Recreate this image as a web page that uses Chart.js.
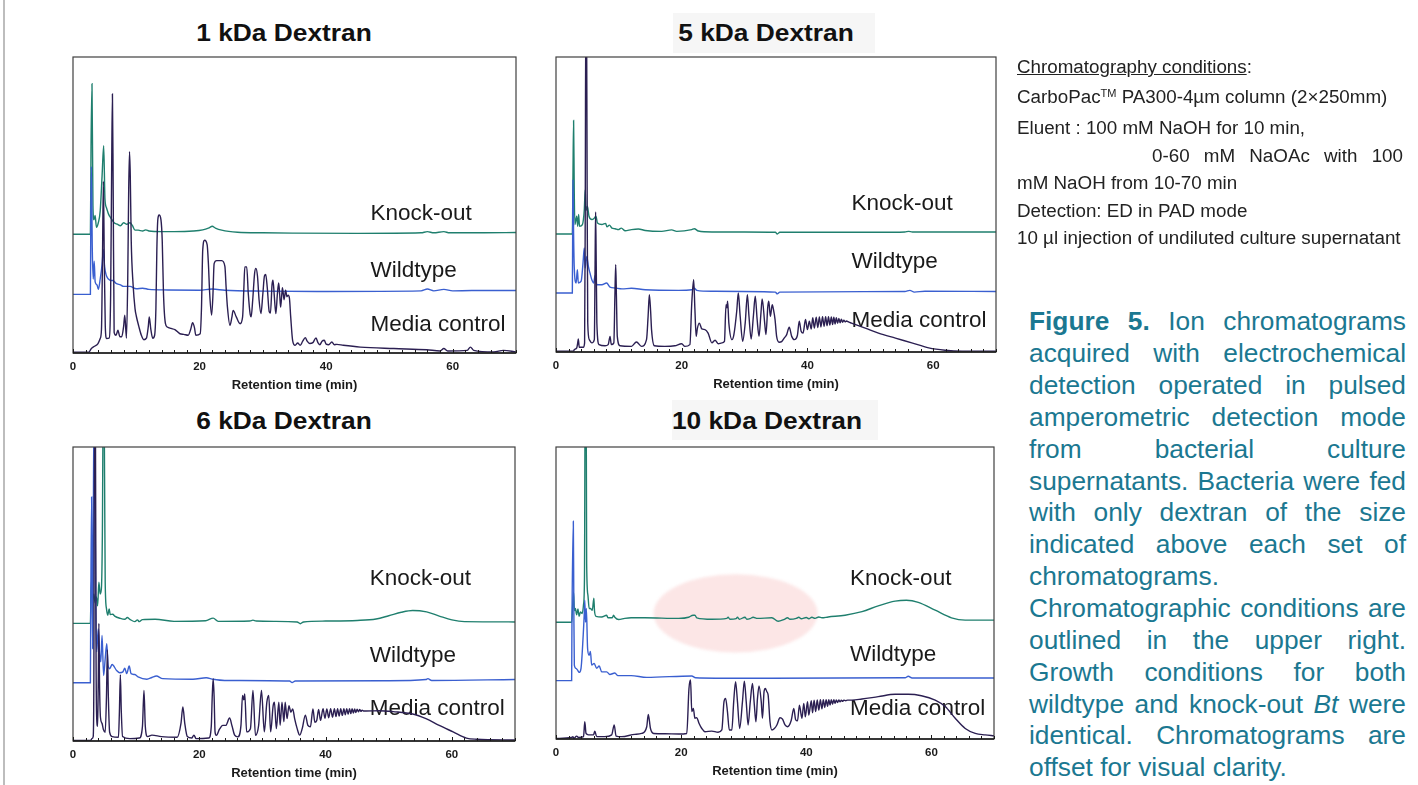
<!DOCTYPE html>
<html>
<head>
<meta charset="utf-8">
<script src="https://cdn.jsdelivr.net/npm/chart.js@4.4.1/dist/chart.umd.min.js"></script>
<style>
  html, body { margin: 0; padding: 0; }
  body { width: 1418px; height: 785px; background: #fff; position: relative; overflow: hidden;
         font-family: "Liberation Sans", Arial, sans-serif; color: #1a1a1a; }
  .edge { position: absolute; left: 3px; top: 0; width: 2px; height: 785px; background: #bdbdbd; }
  canvas { position: absolute; }
  .tbox { position: absolute; background: #f6f6f6; }
  .title { position: absolute; font-weight: bold; font-size: 23.5px; color: #111; white-space: nowrap;
           line-height: 28px; transform: translate(-50%, -50%) scaleX(1.12); }
  .cond { position: absolute; font-size: 18.8px; line-height: 22px; color: #222; white-space: nowrap; }
  .cond sup { font-size: 11px; line-height: 0; vertical-align: 6px; }
  .just { white-space: normal; text-align: justify; text-align-last: justify; }
  .cap { position: absolute; left: 1029px; width: 377px; font-size: 26.3px; line-height: 30px; color: #1b7891;
         text-align: justify; text-align-last: justify; }
  .cap.last { text-align-last: left; }
</style>
</head>
<body>
<div class="edge"></div>

<div class="tbox" style="left:673px;top:13px;width:202px;height:40px"></div>
<div class="tbox" style="left:672px;top:400px;width:206px;height:40px"></div>
<div class="title" style="left:284px;top:33px">1 kDa Dextran</div>
<div class="title" style="left:766px;top:33px">5 kDa Dextran</div>
<div class="title" style="left:284px;top:421px">6 kDa Dextran</div>
<div class="title" style="left:767px;top:421px">10 kDa Dextran</div>

<canvas id="c1k"></canvas>
<canvas id="c5k"></canvas>
<canvas id="c6k"></canvas>
<canvas id="c10k"></canvas>

<div class="cond" style="left:1017px;top:56px"><u>Chromatography conditions</u>:</div>
<div class="cond" style="left:1017px;top:86px">CarboPac<sup>TM</sup> PA300-4µm column (2×250mm)</div>
<div class="cond" style="left:1017px;top:117px">Eluent : 100 mM NaOH for 10 min,</div>
<div class="cond just" style="left:1152px;top:145px;width:251px">0-60 mM NaOAc with 100</div>
<div class="cond" style="left:1017px;top:172px">mM NaOH from 10-70 min</div>
<div class="cond" style="left:1017px;top:200px">Detection: ED in PAD mode</div>
<div class="cond" style="left:1017px;top:227px">10 µl injection of undiluted culture supernatant</div>

<div class="cap" style="top:306px"><b>Figure 5.</b> Ion chromatograms</div>
<div class="cap" style="top:338px">acquired with electrochemical</div>
<div class="cap" style="top:370px">detection operated in pulsed</div>
<div class="cap" style="top:402px">amperometric detection mode</div>
<div class="cap" style="top:434px">from bacterial culture</div>
<div class="cap" style="top:466px">supernatants. Bacteria were fed</div>
<div class="cap" style="top:497px">with only dextran of the size</div>
<div class="cap" style="top:529px">indicated above each set of</div>
<div class="cap last" style="top:561px">chromatograms.</div>
<div class="cap" style="top:593px">Chromatographic conditions are</div>
<div class="cap" style="top:625px">outlined in the upper right.</div>
<div class="cap" style="top:657px">Growth conditions for both</div>
<div class="cap" style="top:689px">wildtype and knock-out <i>Bt</i> were</div>
<div class="cap" style="top:720px">identical. Chromatograms are</div>
<div class="cap last" style="top:752px">offset for visual clarity.</div>

<script>
// Retention time (min) vs detector response; each trace is relative to its own baseline.
const TIME_TICKS = [0, 20, 40, 60];
const TRACE_NAMES = ['Knock-out', 'Wildtype', 'Media control'];
// vertical offsets applied to the traces
const OFFSET_KO = 40;
const OFFSET_WT = 20;
const OFFSET_MC = 0;

// ---------- 1 kDa dextran ----------
const ko1k = [[0,0.1],[2.75,0.1],[2.85,30],[3.0,51],[3.15,10],[3.3,5],[3.5,6.5],[3.7,2.5],[4.0,4],[4.3,8],[4.6,20],[4.85,30],[5.05,12],[5.3,9],[5.6,7],[6.0,5.5],[6.5,4],[7.0,3.5],[7.5,3],[8.0,4],[8.5,3.5],[9.0,4],[9.4,3],[9.8,1.5],[10.3,1.5],[11,1.2],[11.5,1.6],[12,1.2],[14,1],[16,1],[19,1.2],[20.5,1.6],[21.5,2.3],[22,2.8],[22.5,2.2],[23.5,1.5],[26,0.8],[30,0.6],[35,0.5],[45,0.4],[55,0.6],[56,1.0],[57,0.6],[58.6,1.0],[59.5,0.6],[65,0.6],[70,0.7]];
const wt1k = [[0,-0.2],[2.75,-0.2],[2.8,20],[2.9,43],[3.05,15],[3.2,5],[3.35,11],[3.5,4],[3.8,3],[4.0,1.5],[4.3,5],[4.6,10],[4.8,15],[5.0,9],[5.3,6],[5.6,5],[6.0,4.5],[6.3,4.5],[6.8,3.5],[7.5,3],[8.0,2.5],[9,2.5],[10,1.7],[11,1.9],[12,1.5],[15,1.3],[20,1.2],[22,1.6],[24,1.2],[30,0.9],[40,0.8],[55,1.0],[56,1.6],[57,1.0],[58.6,1.5],[60,1.0],[63,1.1],[70,1.1]];
const mc1k = [[0,0.3],[2.5,0.3],[2.9,1.5],[3.4,2.3],[3.95,3.2],[4.3,4.9],[4.5,8],[4.65,30],[4.8,58],[4.95,30],[5.1,9],[5.3,4.9],[5.7,5],[5.95,20],[6.1,60],[6.23,87.5],[6.35,55],[6.5,7],[6.8,6],[7.1,7.7],[7.4,5.5],[7.7,5.5],[8.0,9],[8.18,12.8],[8.45,5],[8.65,25],[8.8,55],[8.93,68],[9.05,60],[9.2,38],[9.5,23],[9.8,15],[10.0,12.5],[10.4,9],[10.8,6],[11.2,4.5],[11.6,5],[11.9,9],[12.05,12.2],[12.3,8],[12.6,5],[12.9,6],[13.1,15],[13.25,35],[13.4,45],[13.6,46.6],[13.9,45],[14.1,38],[14.3,20],[14.6,10],[14.9,8.8],[15.5,8.3],[16.1,7.9],[16.9,6.5],[17.5,6.3],[18.2,6],[18.6,8],[18.9,10.2],[19.2,8.5],[19.4,6],[20.1,6.5],[20.3,15],[20.5,34.8],[20.8,38.1],[21.2,36.5],[21.4,30],[21.6,20],[21.9,12.8],[22.1,19],[22.3,30.2],[22.7,31.2],[23.5,31.2],[24.0,29.3],[24.2,22],[24.4,15.6],[24.8,9.4],[25.1,12],[25.3,14.4],[25.8,12.2],[26.4,9.9],[26.8,12.2],[27.0,22],[27.15,29.1],[27.45,29.1],[27.7,20],[28.0,13],[28.15,12.2],[28.4,18],[28.7,27],[28.9,28.6],[29.15,26],[29.4,18],[29.7,13.3],[30.0,20],[30.25,26],[30.45,26.5],[30.7,22],[31.0,14],[31.2,13.5],[31.45,23],[31.6,24.6],[31.8,19.5],[32.05,13.3],[32.3,20],[32.5,23.7],[32.65,20],[32.8,15.5],[33.0,20],[33.1,22.1],[33.35,18],[33.6,21.2],[33.8,19],[34.0,19.5],[34.2,18.5],[34.4,12.2],[34.7,4.3],[35.1,2.6],[35.5,3.4],[35.9,2.6],[36.3,4],[36.7,5.2],[37.0,4],[37.4,3.2],[37.9,3.5],[38.4,5.1],[38.7,3.5],[39,2.8],[39.35,4],[39.7,4.3],[40.0,3],[40.4,2.8],[40.9,3.7],[41.3,2.8],[41.7,2.9],[42.7,2.6],[45.4,2.0],[50.7,1.5],[55.9,1.1],[58,0.7],[58.6,1.5],[59.2,0.7],[62.3,0.9],[62.8,2.0],[63.3,0.9],[66.5,0.35],[68,0.9],[70,0.35]];

// ---------- 5 kDa dextran ----------
const ko5k = [[0,0],[2.6,0],[2.7,20],[2.8,38.5],[2.9,15],[3.0,3.2],[3.3,6],[3.45,2.6],[3.6,6.6],[3.75,2.6],[4.2,3.2],[4.5,8.2],[4.65,15],[4.77,8],[5.0,9.4],[5.25,6],[5.7,4.9],[6.1,5.4],[6.35,6],[6.6,3.7],[7.3,3.2],[7.9,3.6],[8.1,2.4],[8.5,3.0],[8.9,2.0],[9.4,1.8],[9.9,1.5],[10.4,2.0],[11,1.1],[12,1.5],[13.1,1.7],[14.2,1.2],[16.8,0.9],[18.4,1.4],[19.2,0.9],[21.6,1.5],[22,1.8],[22.65,1.0],[24.8,0.7],[30,0.7],[34.9,0.6],[35.2,0],[35.6,0.6],[40.7,0.6],[51.3,0.6],[55.5,0.7],[56.1,0.9],[56.7,0.7],[70,0.7]];
const wt5k = [[0,0],[2.6,0],[2.65,20],[2.7,38.4],[2.8,20],[2.9,9],[3.2,3.4],[3.4,7.9],[3.55,3.4],[4.0,4],[4.3,10.2],[4.5,15.3],[4.65,8.5],[4.9,12.4],[5.15,9],[5.4,6.8],[5.7,4.5],[6.0,3.4],[6.2,5.9],[6.5,2.8],[7.3,2.8],[8.05,3.4],[8.6,2],[9.4,1.7],[10.5,1.4],[12,1.6],[14.2,1.1],[19.5,0.9],[21.6,1.1],[22,1.6],[22.4,0.9],[24.8,0.6],[34.9,0.3],[35.2,-0.3],[35.6,0.3],[55.5,0.5],[56.3,0.9],[57,0.3],[58.7,0.6],[70,0.5]];
const mc5k = [[0,0.3],[2.8,0.3],[2.9,0.8],[3.3,1.4],[3.45,3],[3.55,4.4],[3.7,1.6],[4.35,1.6],[4.55,3.1],[4.65,46],[4.75,120],[4.85,120],[4.95,57],[5.05,9.8],[5.3,4.2],[5.7,3.1],[6.1,4.2],[6.22,30],[6.3,47.5],[6.4,30],[6.5,9.8],[6.85,2.5],[7.8,2.1],[8.3,2.5],[8.6,5.3],[8.8,2.5],[9.2,3.1],[9.38,20],[9.5,29.6],[9.62,18],[9.75,5.3],[10.2,2.1],[12,1.9],[12.8,3.4],[13.6,1.9],[14.4,4.2],[14.65,12],[14.85,19.4],[15.05,14],[15.2,7.6],[15.65,2.1],[17.3,1.9],[18.9,2.1],[20,2.8],[20.5,1.9],[21.3,2.5],[21.6,16.6],[21.9,24.5],[22.1,14.4],[22.3,5.3],[22.5,8.1],[22.8,9.8],[23.2,7.8],[23.7,7.6],[24.2,6.4],[24.8,3.1],[25.3,4],[25.8,2.8],[26.4,3.1],[26.8,3.6],[27.05,16],[27.2,15],[27.3,17.2],[27.5,9.8],[28.0,4.2],[28.3,5.9],[28.75,13.8],[29.0,20],[29.3,12.1],[29.7,3.6],[30.1,9.8],[30.45,19.4],[30.7,12.1],[31.05,4.4],[31.4,12.1],[31.7,18.9],[32.0,11],[32.3,5.3],[32.6,13],[32.8,18],[33.2,9.8],[33.4,5.9],[33.7,15.5],[33.85,17.2],[34.1,12.1],[34.4,16],[34.6,14.4],[34.85,11],[35.1,5.3],[35.5,3.3],[35.9,3.5],[36.3,4.7],[36.7,5.9],[37.1,8.4],[37.5,5.3],[37.9,4.2],[38.4,5.6],[38.7,10.4],[39.0,7],[39.3,6.4],[39.7,11],[40.0,7.6],[40.3,10.4],[40.6,7.8],[40.85,11.6],[41.1,8.1],[41.4,11.8],[41.65,8.3],[41.9,11.9],[42.15,8.5],[42.4,12],[42.65,8.7],[42.9,12],[43.12,8.9],[43.35,12],[43.57,9.1],[43.8,11.9],[44.0,9.3],[44.2,11.8],[44.4,9.5],[44.6,11.6],[44.8,9.7],[45.0,11.4],[45.2,9.9],[45.4,11.1],[45.6,10.1],[45.8,10.8],[46.0,10.2],[46.2,10.5],[46.6,10.1],[47,9.8],[49.2,8.1],[51.3,6.4],[54,4.7],[56.6,3.1],[59.3,1.4],[61.9,0.6],[64.6,0.3],[70,0.3]];

// ---------- 6 kDa dextran ----------
const ko6k = [[0,0],[2.75,0],[2.85,10],[2.95,15],[3.1,8],[3.3,10],[3.5,7],[3.7,9],[3.9,6],[4.1,14],[4.3,10],[4.5,12],[4.65,30],[4.8,80],[4.9,80],[5.0,50],[5.1,14],[5.3,5],[5.5,2.8],[5.73,4.9],[5.9,3],[6.3,3.1],[6.6,2.5],[7.5,1.7],[8.2,1.4],[8.6,2.0],[9.0,1.4],[9.8,0.6],[10.2,1.2],[10.5,0.6],[11.0,1.3],[13,1.4],[16,0.7],[21,0.9],[22.2,1.8],[23,0.7],[28,0.8],[28.5,1.1],[29,0.8],[32,0.7],[35.5,0.5],[36,-0.1],[36.5,0.5],[40,0.8],[45,1.0],[48,1.5],[50,2.6],[52,3.8],[53.8,4.4],[56,3.9],[58,2.5],[60,1.2],[62,0.6],[70,0.5]];
const wt6k = [[0,-0.2],[2.75,-0.2],[2.8,20],[2.95,63],[3.05,30],[3.12,11.4],[3.2,40],[3.3,90],[3.4,90],[3.5,60],[3.6,27.3],[3.75,10.3],[4.0,18.2],[4.2,10],[4.4,6.9],[4.6,15.9],[4.85,2.3],[5.1,8],[5.35,13.1],[5.55,5.7],[5.8,4.6],[6.2,6],[6.9,4],[7.4,3.2],[7.9,3.5],[8.2,4.8],[8.5,2.9],[8.9,5.5],[9.2,2.9],[9.8,2.6],[10.3,1.8],[11.7,1.0],[12.5,1.6],[13.2,2.1],[14.2,1.2],[19,1.0],[21.1,1.5],[22.2,1.0],[24,0.6],[34.3,0.4],[34.7,-0.1],[35.2,0.4],[50,0.5],[55.9,0.9],[56.2,1.2],[56.8,0.6],[70,0.9]];
const mc6k = [[0,0.2],[2.8,0.2],[3.0,0.8],[3.2,1.5],[3.3,20],[3.4,110],[3.55,110],[3.65,30],[3.75,8],[3.9,5],[4.0,20],[4.1,40],[4.2,20],[4.35,8],[4.6,6],[4.8,4],[5.1,3],[5.3,15],[5.45,31],[5.6,15],[5.8,3],[6.2,1.5],[7.2,1.3],[7.35,10],[7.5,22.5],[7.65,10],[7.85,1.5],[9,0.8],[10.5,1.0],[11.0,5],[11.24,17.2],[11.45,5],[11.8,1.5],[12.5,2.0],[14,1.5],[16.5,1.3],[17.1,6],[17.4,11.6],[17.7,6],[18.1,1.5],[18.8,1.0],[19.15,2.0],[19.5,0.8],[21.5,1.0],[21.9,5],[22.05,15],[22.2,21.2],[22.35,15],[22.5,3],[22.7,1.9],[23.2,4],[23.7,5.3],[24.2,5.3],[24.8,7.8],[25.2,5],[25.6,2],[26.1,1.4],[26.6,5.3],[26.85,15.5],[27.05,14],[27.2,16],[27.5,3.1],[28.1,4.2],[28.5,17.2],[28.9,1.9],[29.4,5.3],[29.85,17.2],[30.3,3.1],[30.7,13.2],[31.0,15.5],[31.3,3.1],[31.7,12],[31.9,13.2],[32.2,4.2],[32.6,13.2],[32.8,5.3],[33.1,13.2],[33.4,6.5],[33.6,13.2],[33.9,7.6],[34.2,12],[34.5,9.8],[34.8,10.9],[35.1,7.6],[35.5,4.2],[35.9,2.0],[36.3,4.2],[36.8,8.8],[37.2,5.3],[37.6,4.8],[38.0,10.9],[38.3,6.4],[38.6,7],[38.9,10.7],[39.2,7],[39.6,11],[39.9,7.7],[40.2,10.9],[40.5,7.9],[40.8,11],[41.1,8.1],[41.4,11],[41.65,8.3],[41.9,11],[42.15,8.5],[42.4,11],[42.65,8.7],[42.9,11],[43.12,8.9],[43.35,11],[43.57,9.1],[43.8,11],[44.0,9.3],[44.2,11],[44.4,9.5],[44.6,10.9],[44.8,9.7],[45.0,10.8],[45.2,9.9],[45.4,10.7],[45.6,10.1],[45.8,10.5],[46.0,10.2],[46.4,10.2],[48.5,10.3],[50.7,10],[53.8,9.2],[55.9,7.6],[58,5.3],[60.2,3.1],[62.3,1.0],[63.9,0.6],[70,0.35]];

// ---------- 10 kDa dextran ----------
const ko10k = [[0,0],[2.5,0],[2.6,3],[2.8,10.4],[2.95,4],[3.1,4.7],[3.3,2.5],[3.5,4.5],[3.7,2.0],[3.9,3.5],[4.2,3.0],[4.4,6],[4.55,15],[4.68,90],[4.8,90],[4.9,20],[5.1,9.3],[5.3,4.7],[5.5,4.7],[5.8,4.1],[6.05,8.2],[6.15,4],[6.4,2.0],[7.3,1.8],[8.1,2.4],[8.3,1.5],[9.0,1.5],[9.2,2.4],[9.4,1.7],[10,0.9],[11,1.3],[12,1.5],[14.2,1.5],[19.6,1.3],[21.2,1.7],[21.9,2.4],[22.2,2.4],[22.5,1.5],[24.9,1.0],[27.3,1.3],[27.5,1.7],[27.8,1.0],[28.8,1.2],[29.0,1.7],[29.3,1.0],[30.2,1.7],[30.5,1.0],[31.0,1.2],[31.5,1.7],[32.2,1.3],[34.5,1.5],[35.5,0.3],[36.5,1.0],[37.0,1.5],[37.4,1.0],[38.4,1.3],[38.8,1.7],[39.2,1.2],[40.0,1.6],[40.4,1.2],[40.9,1.7],[41.4,1.3],[42.0,1.8],[42.5,1.5],[43.5,1.8],[46.2,2.4],[48.9,3.6],[51.5,5.6],[54.2,7.2],[56,7.5],[57.9,6.8],[60.6,4.1],[63.2,1.5],[65.4,0.7],[70,0.7]];
const wt10k = [[0,0],[2.5,0],[2.55,20],[2.77,54.6],[2.85,25],[2.93,5.3],[3.2,4.2],[3.45,3.6],[3.7,2.8],[4.0,4.2],[4.35,15.6],[4.5,22],[4.6,27.5],[4.72,20],[4.85,24.7],[5.05,11],[5.3,8.7],[5.5,10],[5.7,5.3],[6.1,5.9],[6.5,4.2],[6.9,5],[7.3,3],[8.1,3],[8.6,2.1],[9.4,2.6],[9.9,1.7],[10.5,1.7],[12,1.7],[14.5,1.1],[21.7,1.6],[22.3,1.0],[30,0.8],[55.8,1.0],[56.3,1.5],[56.9,0.9],[70,0.9]];
const mc10k = [[0,0.2],[2.5,0.5],[2.7,0.8],[2.85,0.2],[3.3,1.0],[3.6,0.5],[4.4,0.8],[4.6,5.9],[4.8,1.9],[5.2,1.4],[6.0,1.4],[6.2,2.7],[6.5,0.8],[7.8,0.8],[8.9,1.4],[9.3,4.8],[9.6,1.0],[10.5,0.8],[12.6,1.6],[13.7,1.9],[14.5,4.2],[14.75,8.4],[15.1,3.6],[15.6,1.9],[17.4,1.8],[19.6,1.7],[20.9,1.9],[21.25,17.3],[21.5,20.2],[21.7,9.4],[21.95,10.5],[22.2,7.1],[22.5,7.3],[22.85,5.4],[23.3,3.6],[23.8,2.5],[24.9,2.7],[25.9,2.3],[26.5,3.1],[26.85,12.8],[27.1,13.9],[27.4,9.4],[27.7,3.1],[28.1,3.1],[28.4,12.8],[28.7,19.6],[29.0,12.8],[29.35,3.6],[29.8,12.8],[30.1,19.8],[30.4,12.8],[30.7,4.8],[31.05,12.8],[31.4,19],[31.7,11.6],[31.95,5.9],[32.2,13.9],[32.45,18.2],[32.8,12.8],[33.0,7.1],[33.25,16.2],[33.45,17.3],[33.7,16.2],[33.9,15.1],[34.2,5.9],[34.5,3.1],[34.9,3.6],[35.3,4.8],[35.8,7.3],[36.2,6.8],[36.6,4.8],[37.0,4.2],[37.6,6.4],[38.0,10.5],[38.3,6.6],[38.6,6.2],[38.9,11.6],[39.3,7.1],[39.6,12.2],[39.85,7.6],[40.2,12.8],[40.4,8.2],[40.8,13.1],[41.0,9.0],[41.25,13.3],[41.5,9.4],[41.75,13.4],[42.0,9.9],[42.25,13.5],[42.5,10.3],[42.72,13.5],[42.95,10.8],[43.17,13.5],[43.4,11.2],[43.6,13.5],[43.8,11.6],[44.0,13.5],[44.2,11.9],[44.4,13.5],[44.6,12.2],[44.8,13.4],[45.0,12.5],[45.2,13.4],[45.4,12.7],[45.6,13.3],[45.8,12.9],[46.0,13.3],[46.3,13.1],[46.6,13.3],[47.3,13.3],[48.9,13.7],[51.5,14.5],[54.2,15.3],[56.3,15.3],[58.4,14.8],[60.6,13.3],[62.2,11.1],[63.8,7.1],[65.4,3.6],[67,1.9],[68.6,1.4],[70,1.1]];

const FONT = '"Liberation Sans", Arial, sans-serif';
const COLOR_KO = '#1f7f6e';
const COLOR_WT = '#3a5fd0';
const COLOR_MC = '#2b1f52';

// panel layout: plot box in page pixels, vertical position of trace names (in axis units)
const PANELS = [
  { id: 'c1k',  box: [73, 57, 516, 353],  ko: ko1k,  wt: wt1k,  mc: mc1k,  nameY: [47.1, 27.7, 9.4] },
  { id: 'c5k',  box: [556, 57, 996, 352], ko: ko5k,  wt: wt5k,  mc: mc5k,  nameY: [50.3, 30.5, 10.7] },
  { id: 'c6k',  box: [73, 447, 515, 741], ko: ko6k,  wt: wt6k,  mc: mc6k,  nameY: [55.2, 29.1, 10.8] },
  { id: 'c10k', box: [556, 447, 994, 739], ko: ko10k, wt: wt10k, mc: mc10k, nameY: [55.0, 28.7, 10.3],
    highlight: { t: 28.7, v: 43, dt: 13.1, dv: 13.4 } }
];

const toPoints = (pairs, offset) => pairs.map(([t, v]) => ({ x: t, y: v + offset }));

// frame, inward ticks, trace names and highlight ellipse
const decorPlugin = {
  id: 'decor',
  beforeDatasetsDraw(chart) {
    const { ctx, scales: { x, y } } = chart;
    const p = chart.options.plugins.decor;
    ctx.save();
    if (p.highlight) {
      const h = p.highlight;
      const cx = x.getPixelForValue(h.t), cy = y.getPixelForValue(h.v);
      const rx = x.getPixelForValue(h.t + h.dt) - cx;
      const ry = cy - y.getPixelForValue(h.v + h.dv);
      ctx.filter = 'blur(1.5px)';
      ctx.fillStyle = '#fce6e6';
      ctx.beginPath();
      ctx.ellipse(cx, cy, rx, ry, 0, 0, Math.PI * 2);
      ctx.fill();
      ctx.filter = 'none';
    }
    ctx.fillStyle = '#1a1a1a';
    ctx.font = '22.5px ' + FONT;
    ctx.textBaseline = 'middle';
    ctx.textAlign = 'left';
    TRACE_NAMES.forEach((name, i) => {
      ctx.fillText(name, x.getPixelForValue(47), y.getPixelForValue(p.nameY[i]));
    });
    ctx.restore();
  },
  afterDraw(chart) {
    const { ctx, chartArea: a, scales: { x } } = chart;
    ctx.save();
    ctx.strokeStyle = '#404040';
    ctx.lineWidth = 1.2;
    ctx.strokeRect(a.left, a.top, a.right - a.left, a.bottom - a.top);
    ctx.strokeStyle = '#1a1a1a';
    ctx.lineWidth = 1.6;
    ctx.beginPath();
    ctx.moveTo(a.left, a.bottom);
    ctx.lineTo(a.right, a.bottom);
    ctx.stroke();
    ctx.lineWidth = 1;
    ctx.beginPath();
    for (let t = 0; t <= 70; t += 2) {
      const px = Math.round(x.getPixelForValue(t)) + 0.5;
      const len = TIME_TICKS.includes(t) ? 4 : 3;
      ctx.moveTo(px, a.bottom);
      ctx.lineTo(px, a.bottom - len);
    }
    ctx.stroke();
    ctx.restore();
  }
};

function buildPanel(p) {
  const cv = document.getElementById(p.id);
  const [L, T, R, B] = p.box;
  const padL = 25, padR = 25, padT = 6, axisH = 40;
  const w = R - L + padL + padR, h = B - T + padT + axisH;
  cv.style.left = (L - padL) + 'px';
  cv.style.top = (T - padT) + 'px';
  cv.style.width = w + 'px';
  cv.style.height = h + 'px';
  cv.width = w; cv.height = h;

  const line = (data, color, label) => ({
    label, data, borderColor: color, borderWidth: 1.4, pointRadius: 0,
    cubicInterpolationMode: 'monotone', fill: false
  });

  new Chart(cv, {
    type: 'line',
    data: {
      datasets: [
        line(toPoints(p.mc, OFFSET_MC), COLOR_MC, TRACE_NAMES[2]),
        line(toPoints(p.wt, OFFSET_WT), COLOR_WT, TRACE_NAMES[1]),
        line(toPoints(p.ko, OFFSET_KO), COLOR_KO, TRACE_NAMES[0])
      ]
    },
    options: {
      responsive: false,
      animation: false,
      events: [],
      layout: { padding: { left: padL, right: padR, top: padT, bottom: 0 } },
      plugins: {
        legend: { display: false },
        tooltip: { enabled: false },
        decor: { nameY: p.nameY, highlight: p.highlight }
      },
      scales: {
        x: {
          type: 'linear', min: 0, max: 70,
          afterBuildTicks: s => { s.ticks = TIME_TICKS.map(v => ({ value: v })); },
          afterFit: s => { s.height = axisH; },
          grid: { display: false, drawTicks: false },
          border: { display: false },
          ticks: { padding: 7, autoSkip: false, maxRotation: 0, color: '#1a1a1a',
                   font: { family: FONT, size: 11.5, weight: 'bold' } },
          title: { display: true, text: 'Retention time (min)', color: '#1a1a1a',
                   padding: { top: 0, bottom: 0 },
                   font: { family: FONT, size: 13, weight: 'bold' } }
        },
        y: { display: false, min: 0, max: 100 }
      }
    },
    plugins: [decorPlugin]
  });
}

PANELS.forEach(buildPanel);
</script>
</body>
</html>
